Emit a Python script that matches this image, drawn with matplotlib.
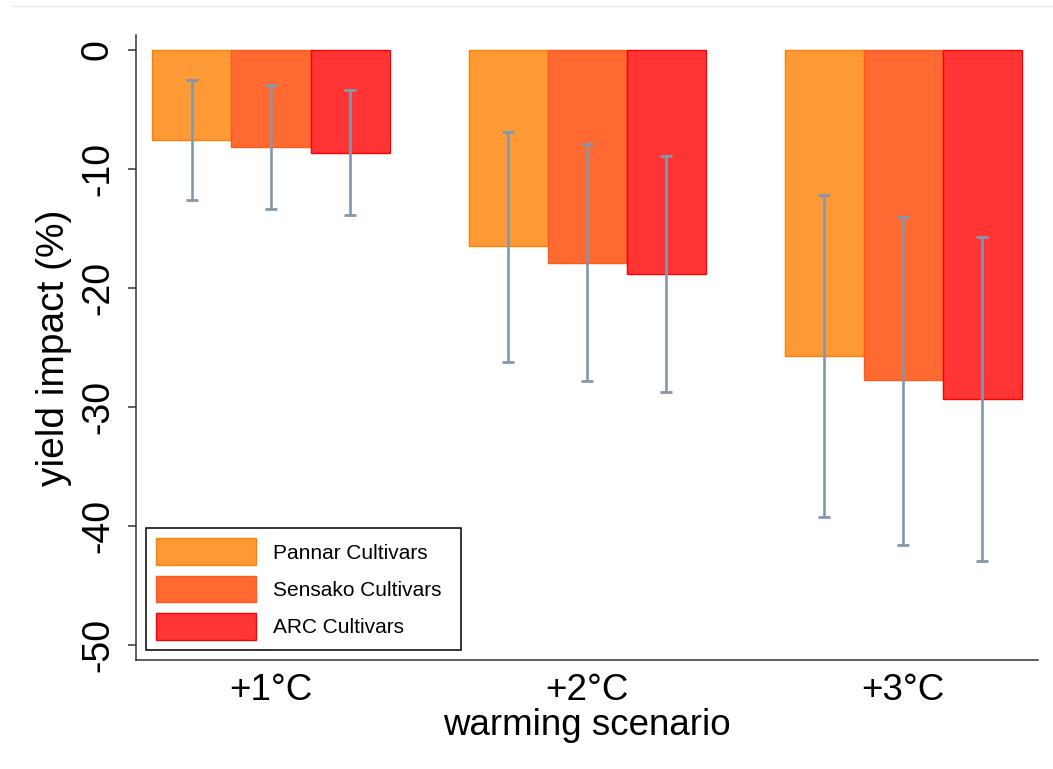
import numpy as np
import matplotlib.pyplot as plt
from matplotlib.lines import Line2D

plt.rcParams['font.family'] = ['Liberation Sans', 'DejaVu Sans']

scenarios = ['+1°C', '+2°C', '+3°C']
groups = ['Pannar Cultivars', 'Sensako Cultivars', 'ARC Cultivars']

pannar = [-7.56, -16.47, -25.7]
sensako = [-8.15, -17.87, -27.7]
arc = [-8.66, -18.8, -29.3]

pannar_hi = [-2.5, -6.87, -12.18]
pannar_lo = [-12.6, -26.2, -39.2]
sensako_hi = [-2.94, -7.93, -14.0]
sensako_lo = [-13.36, -27.85, -41.6]
arc_hi = [-3.36, -8.91, -15.7]
arc_lo = [-13.87, -28.77, -42.9]

fills = ['#fd9a35', '#ff6a33', '#ff3434']
edges = ['#ff8000', '#ff5a1a', '#ff0000']
ebar_col = '#8597ac'

fig = plt.figure(figsize=(10.53, 7.69), dpi=100)
ax = fig.add_axes([0.1292, 0.1417, 0.8566, 0.8128])

x = np.arange(1, 4)
w = 0.25
means = [pannar, sensako, arc]
his = [pannar_hi, sensako_hi, arc_hi]
los = [pannar_lo, sensako_lo, arc_lo]

for i in range(3):
	pos = x + (i - 1) * w
	ax.bar(pos, means[i], width=w, color=fills[i], edgecolor=edges[i],
		linewidth=1.0, label=groups[i], zorder=2)
	hi = np.array(his[i])
	lo = np.array(los[i])
	mid = (hi + lo) / 2
	ax.errorbar(pos, mid, yerr=(hi - lo) / 2, fmt='none', ecolor=ebar_col,
		elinewidth=1.9, capsize=4.3, capthick=2.0, zorder=3)

ax.set_xlim(0.573, 3.427)
ax.set_ylim(-51.26, 1.26)
ax.set_yticks([0, -10, -20, -30, -40, -50])
ax.set_yticklabels(['0', '-10', '-20', '-30', '-40', '-50'], rotation=90,
	va='center', fontsize=27)
ax.set_xticks(x)
ax.set_xticklabels(scenarios, fontsize=26.5)
ax.tick_params(axis='x', length=0, pad=9)
ax.tick_params(axis='y', length=6, width=1.1, color='#333333', pad=8.5)

for s in ['top', 'right']:
	ax.spines[s].set_visible(False)
for s in ['left', 'bottom']:
	ax.spines[s].set_linewidth(1.1)
	ax.spines[s].set_color('#333333')

ax.set_xlabel('warming scenario', fontsize=26.5, labelpad=0)
ax.set_ylabel('yield impact (%)', fontsize=28, labelpad=6)

leg = ax.legend(loc='lower left', bbox_to_anchor=(0.0111, 0.016, 0.3492, 0.2),
	mode='expand', fontsize=15, frameon=True, fancybox=False, framealpha=1,
	edgecolor='black', handlelength=4.8, handleheight=1.6, labelspacing=0.5,
	handletextpad=0.8, borderpad=0.5, borderaxespad=0)
leg.get_frame().set_linewidth(1.1)

fig.add_artist(Line2D([0.01, 1.0], [1 - 6 / 769, 1 - 6 / 769],
	transform=fig.transFigure, color='#e6ecee', linewidth=1.0))

plt.savefig('out.png', dpi=100)
